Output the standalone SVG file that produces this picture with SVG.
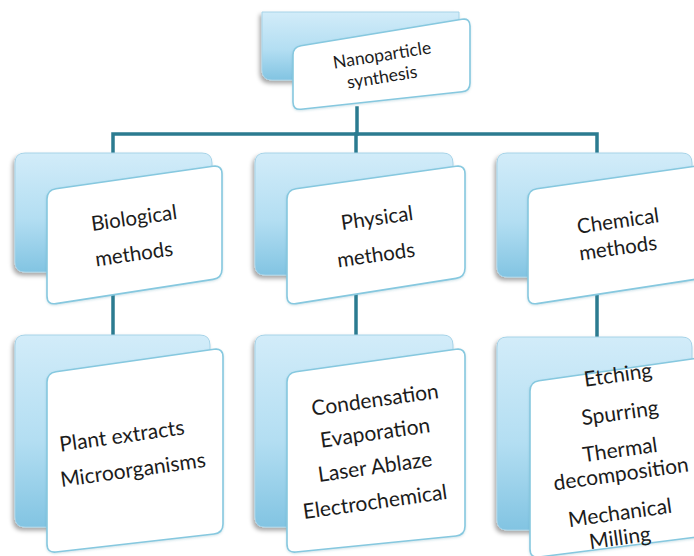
<svg xmlns="http://www.w3.org/2000/svg" width="694" height="556" viewBox="0 0 694 556">
<defs>
<linearGradient id="blueGrad" x1="0" y1="0" x2="0" y2="1">
<stop offset="0" stop-color="#d2ecf9"/>
<stop offset="0.55" stop-color="#b3def2"/>
<stop offset="1" stop-color="#82c4e2"/>
</linearGradient>
<filter id="shadow" x="-10%" y="-10%" width="125%" height="125%">
<feDropShadow dx="-2" dy="3" stdDeviation="2" flood-color="#000" flood-opacity="0.35"/>
</filter>
<filter id="cardShadow" x="-10%" y="-10%" width="125%" height="125%">
<feDropShadow dx="0" dy="1" stdDeviation="1" flood-color="#4a8fa8" flood-opacity="0.25"/>
</filter>
</defs>
<style>
.back{fill:url(#blueGrad);stroke:#a6d3e8;stroke-width:1;filter:url(#shadow);}
.card{fill:#ffffff;stroke:#86c8df;stroke-width:1.6;filter:url(#cardShadow);}
.conn{fill:none;stroke:#2b7b90;stroke-width:3.5;stroke-linecap:square;}
text{font-family:Lato,"Open Sans","Liberation Sans",sans-serif;fill:#1c1c1c;text-anchor:middle;}
.t1{font-size:17.5px;}
.t2{font-size:20.5px;}
.t3{font-size:21px;}
</style>
<rect width="694" height="556" fill="#ffffff"/>

<g id="connectors">
<path class="conn" d="M357,108 V134"/>
<path class="conn" d="M113,336 V134 H597 V338"/>
<path class="conn" d="M356,134 V336"/>
</g>

<g id="node-top">
<path class="back" d="M262,12 H459 V70 Q459,80 449,80 H272 Q262,80 262,70 Z"/>
<path class="card" d="M293,55 Q293,47 301,45.7 L462,19.3 Q470,18 470,26 L470,83 Q470,91 462,91.8 L301,109.2 Q293,110 293,102 Z"/>
<text class="t1" transform="rotate(-9 382 55)" x="382" y="61">Nanoparticle</text>
<text class="t1" transform="rotate(-9 382 77)" x="382" y="83">synthesis</text>
</g>

<g id="node-biological">
<path class="back" d="M25,153 H202 Q212,153 212,163 V262 Q212,272 202,272 H25 Q15,272 15,262 V163 Q15,153 25,153 Z"/>
<path class="card" d="M47,199 Q47,190 56,188.7 L213,166.3 Q222,165 222,174 L222,269 Q222,278 213,279.4 L56,303.6 Q47,305 47,296 Z"/>
<text class="t2" transform="rotate(-8 134 218)" x="134" y="225">Biological</text>
<text class="t2" transform="rotate(-8 134 254)" x="134" y="261">methods</text>
</g>

<g id="node-physical">
<path class="back" d="M265,153 H443 Q453,153 453,163 V265 Q453,275 443,275 H265 Q255,275 255,265 V163 Q255,153 265,153 Z"/>
<path class="card" d="M287,199 Q287,190 296,188.7 L456,166.3 Q465,165 465,174 L465,268 Q465,277 456,278.4 L296,303.6 Q287,305 287,296 Z"/>
<text class="t2" transform="rotate(-8 377 218)" x="377" y="225">Physical</text>
<text class="t2" transform="rotate(-8 376 255)" x="376" y="262">methods</text>
</g>

<g id="node-chemical">
<path class="back" d="M507,153 H682 Q692,153 692,163 V267 Q692,277 682,277 H507 Q497,277 497,267 V163 Q497,153 507,153 Z"/>
<path class="card" d="M528,199 Q528,190 537,188.7 L695,166.3 Q704,165 704,174 L704,269 Q704,278 695,279.4 L537,303.6 Q528,305 528,296 Z"/>
<text class="t2" transform="rotate(-8 618 221)" x="618" y="228">Chemical</text>
<text class="t2" transform="rotate(-8 618 248)" x="618" y="255">methods</text>
</g>

<g id="node-biological-items">
<path class="back" d="M25,335 H200 Q210,335 210,345 V517 Q210,527 200,527 H25 Q15,527 15,517 V345 Q15,335 25,335 Z"/>
<path class="card" d="M47,382 Q47,373 56,371.7 L214,349.3 Q223,348 223,357 L223,524 Q223,533 214,534 L56,552 Q47,553 47,544 Z"/>
<text class="t3" transform="rotate(-8 122 436)" x="122" y="443">Plant extracts</text>
<text class="t3" transform="rotate(-8 133 470)" x="133" y="477">Microorganisms</text>
</g>

<g id="node-physical-items">
<path class="back" d="M265,335 H443 Q453,335 453,345 V517 Q453,527 443,527 H265 Q255,527 255,517 V345 Q255,335 265,335 Z"/>
<path class="card" d="M287,382 Q287,373 296,371.7 L456,349.3 Q465,348 465,357 L465,526 Q465,535 456,536 L296,552 Q287,553 287,544 Z"/>
<text class="t3" transform="rotate(-8 375 400)" x="375" y="407">Condensation</text>
<text class="t3" transform="rotate(-8 375 433)" x="375" y="440">Evaporation</text>
<text class="t3" transform="rotate(-8 375 467)" x="375" y="474">Laser Ablaze</text>
<text class="t3" transform="rotate(-8 375 502)" x="375" y="509">Electrochemical</text>
</g>

<g id="node-chemical-items">
<path class="back" d="M507,337 H682 Q692,337 692,347 V520 Q692,530 682,530 H507 Q497,530 497,520 V347 Q497,337 507,337 Z"/>
<path class="card" d="M530,391 Q530,382 539,380.7 L697,358.3 Q706,357 706,366 L706,527 Q706,536 697,537 L539,557 Q530,558 530,549 Z"/>
<text class="t3" transform="rotate(-8 618 375)" x="618" y="382">Etching</text>
<text class="t3" transform="rotate(-8 620 413)" x="620" y="420">Spurring</text>
<text class="t3" transform="rotate(-8 620 450)" x="620" y="457">Thermal</text>
<text class="t3" transform="rotate(-8 621 474)" x="621" y="481">decomposition</text>
<text class="t3" transform="rotate(-8 620 513)" x="620" y="520">Mechanical</text>
<text class="t3" transform="rotate(-8 620 538)" x="620" y="545">Milling</text>
</g>
</svg>
